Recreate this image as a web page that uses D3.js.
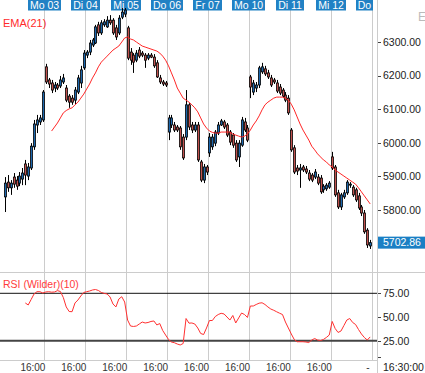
<!DOCTYPE html>
<html><head><meta charset="utf-8">
<script src="https://cdn.jsdelivr.net/npm/d3@7"></script>
<style>body{margin:0;background:#fff}svg{display:block;font-family:Arial,"Liberation Sans",sans-serif}</style>
</head><body><svg id="c" width="425" height="373"></svg>
<script>
const dayLabels=["Mo 03","Di 04","Mi 05","Do 06","Fr 07","Mo 10","Di 11","Mi 12","Do"];
const timeLabels=["16:00","16:00","16:00","16:00","16:00","16:00","16:00","16:00"];
const openP=[5839,5883,5866,5898,5889,5880,5892,5937,5901,5925,
5988,6053,6062,6068,6226,6187,6178,6163,6172,6169,
6181,6163,6139,6133,6127,6151,6178,6223,6261,6270,
6291,6297,6351,6327,6351,6345,6365,6365,6342,6327,
6374,6383,6342,6270,6261,6246,6276,6267,6261,6252,
6261,6255,6238,6193,6181,6178,6032,6053,6053,6047,
6044,6017,6017,6113,6053,6038,6053,5943,5889,5928,
5970,5988,5999,6029,6053,6062,6053,6032,6023,5999,
5958,5993,6062,6044,6196,6151,6163,6172,6211,6220,
6208,6193,6187,6178,6166,6157,6142,6133,6038,5985,
5925,5919,5928,5922,5910,5904,5898,5898,5895,5860,
5863,5868,5958,5928,5851,5809,5839,5851,5874,5868,
5860,5842,5809,5791,5740,5693];
const highP=[5898,5904,5889,5910,5901,5913,5925,5949,5940,5999,
6068,6083,6083,6157,6235,6193,6187,6181,6178,6199,
6205,6172,6145,6142,6166,6202,6229,6276,6276,6306,
6312,6351,6360,6365,6368,6377,6380,6371,6351,6380,
6401,6401,6348,6282,6267,6276,6285,6273,6267,6267,
6267,6264,6246,6202,6187,6184,6083,6083,6062,6053,
6050,6026,6157,6118,6062,6062,6062,5949,5937,5934,
6029,6026,6038,6062,6071,6068,6059,6038,6029,6008,
6008,6077,6074,6053,6202,6187,6181,6229,6238,6229,
6217,6202,6193,6187,6175,6163,6151,6142,6044,5993,
5934,5937,5934,5931,5919,5910,5922,5907,5904,5877,
5880,5886,5973,5934,5860,5851,5860,5889,5883,5874,
5866,5851,5815,5800,5746,5711];
const lowP=[5794,5854,5845,5866,5860,5871,5874,5874,5889,5919,
5979,6029,6053,6062,6175,6163,6148,6151,6157,6163,
6175,6121,6104,6113,6115,6145,6163,6217,6252,6261,
6285,6294,6318,6321,6345,6342,6351,6321,6306,6321,
6368,6374,6246,6232,6208,6240,6252,6255,6223,6246,
6252,6223,6193,6175,6169,6166,6008,6044,6032,6032,
5979,5949,6008,6038,6029,6032,5943,5883,5880,5904,
5958,5979,5990,6023,6050,6041,6017,5993,5985,5943,
5928,5988,6032,6002,6133,6142,6151,6163,6205,6199,
6190,6166,6175,6148,6142,6133,6121,6083,5973,5907,
5904,5866,5913,5907,5886,5883,5892,5874,5848,5851,
5857,5863,5919,5839,5803,5800,5833,5845,5866,5839,
5824,5800,5782,5729,5687,5684];
const closeP=[5880,5866,5880,5877,5871,5901,5910,5904,5928,5990,
6056,6068,6074,6151,6181,6175,6157,6172,6163,6187,
6193,6127,6121,6121,6157,6193,6217,6267,6270,6297,
6306,6345,6327,6357,6360,6365,6357,6327,6315,6371,
6389,6395,6252,6246,6240,6267,6258,6261,6246,6261,
6255,6229,6196,6181,6175,6172,6074,6074,6038,6038,
5988,5955,6113,6047,6038,6053,5949,5889,5928,5913,
6017,6017,6032,6053,6065,6047,6023,6002,5993,5949,
5999,6068,6038,6008,6166,6178,6172,6223,6226,6205,
6196,6172,6181,6154,6148,6139,6127,6089,5979,5913,
5916,5925,5919,5913,5892,5889,5913,5880,5854,5871,
5874,5880,5925,5845,5809,5845,5851,5883,5877,5845,
5830,5806,5791,5735,5696,5702.86];
const emaStart=16;
const emaVals=[6035,6047,6059,6074,6089,6096,6101,6104,6113,6121,
6133,6145,6160,6175,6193,6208,6226,6240,6249,6258,
6267,6276,6282,6288,6300,6312,6315,6309,6306,6300,
6294,6288,6285,6282,6279,6276,6273,6267,6258,6246,
6229,6208,6187,6163,6148,6133,6127,6121,6113,6104,
6092,6074,6056,6044,6035,6031,6029,6029,6032,6032,
6032,6032,6026,6023,6020,6017,6020,6026,6038,6053,
6065,6080,6098,6113,6121,6127,6133,6136,6136,6136,
6133,6127,6115,6098,6077,6056,6038,6023,6008,5990,
5979,5967,5958,5949,5943,5934,5928,5919,5913,5907,
5901,5895,5889,5883,5877,5866,5854,5842,5830,5818];
const rsiStart=7;
const rsiVals=[64.8,62.7,68.5,74.3,76.7,76.7,75.3,76.4,76.7,76.2,
76.4,77.8,76.9,70.6,60.6,55.8,55.6,64.8,67.9,72.2,
75.9,76.7,77.4,78.5,79.0,78.0,75.9,74.9,74.3,71.1,
63.7,60.6,69.0,71.4,65.8,46.8,40.5,40.0,40.5,42.6,
44.7,43.7,44.2,45.3,45.8,41.6,43.1,35.8,31.0,26.3,
23.6,22.9,21.5,20.5,22.0,48.4,43.5,43.7,42.6,38.4,
32.6,31.5,38.4,46.3,46.3,50.5,52.6,53.9,53.2,50.0,
46.8,51.6,43.7,49.0,54.2,52.6,49.5,61.6,61.6,63.2,
64.6,65.0,63.2,60.6,58.4,57.1,55.5,54.0,52.6,44.7,
38.4,32.1,26.3,23.9,23.9,23.9,23.6,23.1,25.7,27.3,
25.7,25.2,26.3,28.4,31.0,45.3,37.9,33.7,35.2,41.0,
46.8,48.4,44.2,42.1,36.8,32.1,28.4,25.7,29.0];
const priceTicks=[5800,5900,6000,6100,6200,6300];
const rsiTicks=[25,50,75];
const lastPrice=5702.86;
const lastTime="16:30:00";

const svg=d3.select("#c");
const W=425,H=373,plotR=377,barsPerDay=14;
const x=d3.scaleLinear().domain([0,125]).range([4.84,370.2]);
const y=d3.scaleLinear().domain([5800,6300]).range([210,42]);
const ry=d3.scaleLinear().domain([25,75]).range([340.7,293.3]);
const grid="#cccccc";

// vertical day gridlines
const dayIdx=dayLabels.map((d,k)=>13.5+barsPerDay*k);
svg.append("g").selectAll("line").data(dayIdx).join("line")
  .attr("x1",d=>Math.round(x(d))+0.5).attr("x2",d=>Math.round(x(d))+0.5)
  .attr("y1",10).attr("y2",361).attr("stroke",grid);
// right border
svg.append("line").attr("x1",plotR+0.5).attr("x2",plotR+0.5).attr("y1",0).attr("y2",H).attr("stroke",grid);
// horizontal separators
svg.append("line").attr("x1",0).attr("x2",W).attr("y1",272.5).attr("y2",272.5).attr("stroke",grid);
svg.append("line").attr("x1",0).attr("x2",plotR).attr("y1",360.5).attr("y2",360.5).attr("stroke",grid);

// day label boxes (width fits text, kept inside plot)
const lg=svg.append("g");
dayLabels.forEach((d,k)=>{
  const g=lg.append("g");
  const r=g.append("rect").attr("y",0).attr("height",10.5).attr("fill","#2181c4");
  const t=g.append("text").attr("y",9).attr("text-anchor","middle").attr("fill","#fff").attr("font-size","10.5px").text(d);
  const tw=t.node().getComputedTextLength();
  const w=Math.max(17,Math.round(tw+4));
  let bx=Math.round(x(dayIdx[k])-w/2);
  bx=Math.min(bx,373-w);
  r.attr("x",bx).attr("width",w);
  t.attr("x",bx+w/2);
});

// candles
const idx=d3.range(closeP.length);
const cg=svg.append("g");
idx.forEach(i=>{
  const c=Math.round(x(i));
  const o=openP[i],cl=closeP[i];
  cg.append("line").attr("x1",c+0.5).attr("x2",c+0.5).attr("y1",y(highP[i])).attr("y2",y(lowP[i])).attr("stroke","#000").attr("stroke-width",1);
  const top=y(Math.max(o,cl)),bot=y(Math.min(o,cl));
  cg.append("rect").attr("x",c-0.5).attr("y",top).attr("width",2).attr("height",Math.max(1,bot-top))
    .attr("fill",cl>=o?"#1c67ad":"#c0504d").attr("stroke","#000").attr("stroke-width",0.8);
});

// EMA
svg.append("path").datum(emaVals).attr("fill","none").attr("stroke","#ff2626").attr("stroke-width",1)
  .attr("d",d3.line().x((d,k)=>x(k+emaStart)).y(d=>y(d)));
svg.append("text").attr("x",3).attr("y",27).attr("fill","#ff2a2a").attr("font-size","11px").text("EMA(21)");

// right axis
const ag=svg.append("g");
priceTicks.forEach(t=>{
  ag.append("line").attr("x1",378).attr("x2",381).attr("y1",Math.round(y(t))+0.5).attr("y2",Math.round(y(t))+0.5).attr("stroke","#444");
  ag.append("text").attr("x",383).attr("y",y(t)+3.8).attr("font-size","10.5px").attr("fill","#222").text(d3.format(".2f")(t));
});
svg.append("rect").attr("x",378).attr("y",y(lastPrice)-6).attr("width",47).attr("height",12).attr("fill","#1a7fc4");
svg.append("text").attr("x",383).attr("y",y(lastPrice)+3.8).attr("font-size","10.5px").attr("fill","#fff").text(d3.format(".2f")(lastPrice));
svg.append("text").attr("x",418).attr("y",21).attr("font-size","12px").attr("fill","#bbb").text("E");

// RSI panel
svg.append("line").attr("x1",0).attr("x2",plotR).attr("y1",ry(75)).attr("y2",ry(75)).attr("stroke","#111").attr("stroke-width",1);
svg.append("line").attr("x1",0).attr("x2",plotR).attr("y1",ry(25)).attr("y2",ry(25)).attr("stroke","#444").attr("stroke-width",2);
svg.append("path").datum(rsiVals).attr("fill","none").attr("stroke","#ff3030").attr("stroke-width",1)
  .attr("d",d3.line().x((d,k)=>x(k+rsiStart)).y(d=>ry(d)));
svg.append("text").attr("x",3).attr("y",288).attr("fill","#ff3b3b").attr("font-size","10.5px").text("RSI (Wilder)(10)");
rsiTicks.forEach(t=>{
  ag.append("line").attr("x1",378).attr("x2",381).attr("y1",Math.round(ry(t))+0.5).attr("y2",Math.round(ry(t))+0.5).attr("stroke","#444");
  ag.append("text").attr("x",383).attr("y",ry(t)+3.8).attr("font-size","10.5px").attr("fill","#222").text(d3.format(".2f")(t));
});
ag.append("line").attr("x1",378).attr("x2",381).attr("y1",357.5).attr("y2",357.5).attr("stroke","#444");

// bottom time labels
svg.append("g").selectAll("text").data(timeLabels).join("text")
  .attr("x",(d,k)=>x(9.6+barsPerDay*k)).attr("y",371).attr("text-anchor","middle")
  .attr("font-size","10px").attr("fill","#333").text(d=>d);
svg.append("text").attr("x",368).attr("y",371).attr("text-anchor","middle").attr("font-size","10px").attr("fill","#333").text("-");
svg.append("text").attr("x",383).attr("y",371).attr("font-size","10.5px").attr("fill","#222").text(lastTime);
</script></body></html>
